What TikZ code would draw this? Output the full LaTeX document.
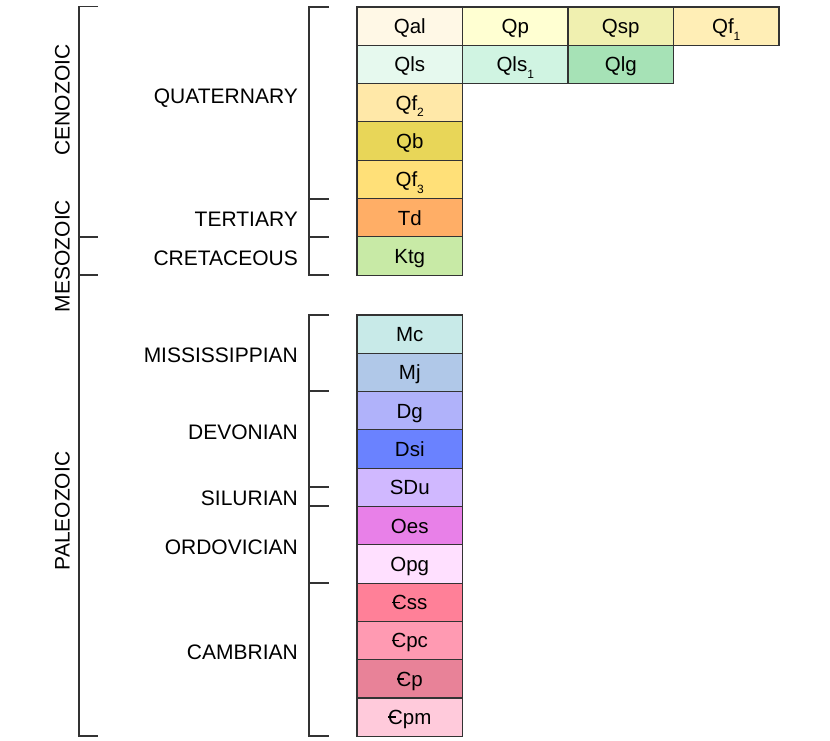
\documentclass[tikz,border=0pt]{standalone}
\usepackage{fontspec}
\setmainfont{Liberation Sans}
\newcommand\cambC{\makebox[0pt][l]{\hspace{0.01em}\rule[0.325em]{0.36em}{0.07em}}C}
\newcommand\subn[1]{\raisebox{-0.32em}{\fontsize{12}{14}\selectfont #1}}
\definecolor{cQal}{HTML}{FFF8E6}
\definecolor{cQp}{HTML}{FFFFD2}
\definecolor{cQsp}{HTML}{F0F0B0}
\definecolor{cQfa}{HTML}{FFEEB6}
\definecolor{cQls}{HTML}{E6F9EE}
\definecolor{cQlsa}{HTML}{D0F4E2}
\definecolor{cQlg}{HTML}{A6E2B6}
\definecolor{cQfb}{HTML}{FFE8A8}
\definecolor{cQb}{HTML}{E8D658}
\definecolor{cQfc}{HTML}{FFE078}
\definecolor{cTd}{HTML}{FFAE66}
\definecolor{cKtg}{HTML}{C8EAA6}
\definecolor{cMc}{HTML}{C8EAE8}
\definecolor{cMj}{HTML}{B0C8E8}
\definecolor{cDg}{HTML}{B0B2FA}
\definecolor{cDsi}{HTML}{6A82FF}
\definecolor{cSDu}{HTML}{D0B8FF}
\definecolor{cOes}{HTML}{E880E8}
\definecolor{cOpg}{HTML}{FFE0FF}
\definecolor{cCss}{HTML}{FF8098}
\definecolor{cCpc}{HTML}{FF9AB2}
\definecolor{cCp}{HTML}{E88298}
\definecolor{cCpm}{HTML}{FFCADB}
\definecolor{edge}{HTML}{333333}
\tikzset{
  unit/.style={draw=edge, line width=1.1pt, minimum width=105.5pt, minimum height=38.3pt, inner sep=0pt, text height=14.7pt, text depth=0pt, font=\fontsize{20.5}{24}\selectfont},
  brk/.style={draw=edge, line width=1.1pt},
  per/.style={anchor=east, inner sep=0pt, text height=15pt, text depth=0pt, font=\fontsize{21}{24}\selectfont},
  era/.style={rotate=90, inner sep=0pt, text height=15pt, text depth=0pt, font=\fontsize{21}{24}\selectfont},
}
\begin{document}
\begin{tikzpicture}[x=1pt,y=-1pt]
\useasboundingbox (0,0) rectangle (830,741);
% Cenozoic / Mesozoic units
\node[unit, fill=cQal]  (Qal)  at (409.75,26.15) {Qal};
\node[unit, fill=cQp]   (Qp)   at (515.25,26.15) {Qp};
\node[unit, fill=cQsp]  (Qsp)  at (620.75,26.15) {Qsp};
\node[unit, fill=cQfa]  (Qf1)  at (726.25,26.15) {Qf\subn{1}};
\node[unit, fill=cQls]  (Qls)  at (409.75,64.45) {Qls};
\node[unit, fill=cQlsa] (Qls1) at (515.25,64.45) {Qls\subn{1}};
\node[unit, fill=cQlg]  (Qlg)  at (620.75,64.45) {Qlg};
\node[unit, fill=cQfb]  (Qf2)  at (409.75,102.75) {Qf\subn{2}};
\node[unit, fill=cQb]   (Qb)   at (409.75,141.05) {Qb};
\node[unit, fill=cQfc]  (Qf3)  at (409.75,179.35) {Qf\subn{3}};
\node[unit, fill=cTd]   (Td)   at (409.75,217.65) {Td};
\node[unit, fill=cKtg]  (Ktg)  at (409.75,255.95) {Ktg};
% Paleozoic units
\node[unit, fill=cMc]  (Mc)  at (409.75,334.15) {Mc};
\node[unit, fill=cMj]  (Mj)  at (409.75,372.45) {Mj};
\node[unit, fill=cDg]  (Dg)  at (409.75,410.75) {Dg};
\node[unit, fill=cDsi] (Dsi) at (409.75,449.05) {Dsi};
\node[unit, fill=cSDu] (SDu) at (409.75,487.35) {SDu};
\node[unit, fill=cOes] (Oes) at (409.75,525.65) {Oes};
\node[unit, fill=cOpg] (Opg) at (409.75,563.95) {Opg};
\node[unit, fill=cCss] (Css) at (409.75,602.25) {\cambC ss};
\node[unit, fill=cCpc] (Cpc) at (409.75,640.55) {\cambC pc};
\node[unit, fill=cCp]  (Cp)  at (409.75,678.85) {\cambC p};
\node[unit, fill=cCpm] (Cpm) at (409.75,717.15) {\cambC pm};
% period brackets
\draw[brk] (329,7) -- (309,7) -- (309,275) -- (329,275);
\draw[brk] (309,199) -- (329,199);
\draw[brk] (309,237) -- (329,237);
\draw[brk] (329,315) -- (309,315) -- (309,736) -- (329,736);
\foreach \yy in {391,487,506,583} \draw[brk] (309,\yy) -- (329,\yy);
% era bracket
\draw[brk] (98,6.5) -- (79,6.5) -- (79,736) -- (98,736);
\draw[brk] (79,237) -- (98,237);
\draw[brk] (79,275) -- (98,275);
% period labels
\node[per] (quat) at (298,96) {QUATERNARY};
\node[per] (tert) at (298,219) {TERTIARY};
\node[per] (cret) at (298,258) {CRETACEOUS};
\node[per] (miss) at (298,355) {MISSISSIPPIAN};
\node[per] (devo) at (298,432) {DEVONIAN};
\node[per] (silu) at (298,498) {SILURIAN};
\node[per] (ordo) at (298,547) {ORDOVICIAN};
\node[per] (camb) at (298,652) {CAMBRIAN};
% era labels
\node[era] (ceno) at (62,100) {CENOZOIC};
\node[era] (meso) at (62,256) {MESOZOIC};
\node[era] (paleo) at (62,511) {PALEOZOIC};
\end{tikzpicture}
\end{document}
